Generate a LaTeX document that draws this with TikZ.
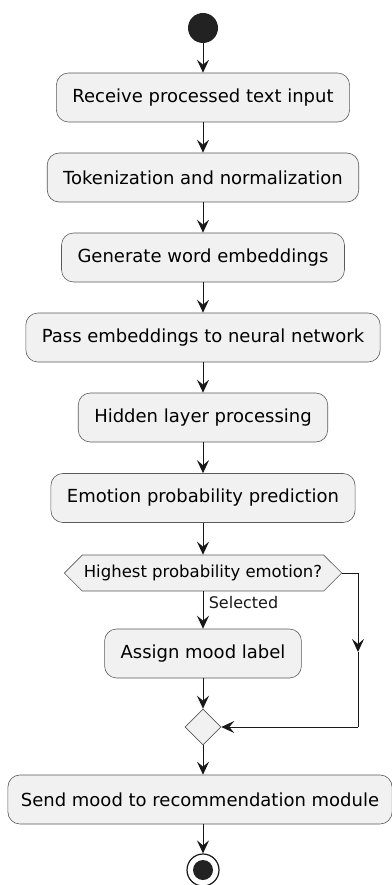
\documentclass[tikz,border=0pt]{standalone}
\usepackage{fontspec}
\setmainfont{DejaVu Sans}
\usetikzlibrary{arrows.meta,shapes.symbols,shapes.geometric}
\definecolor{boxfill}{HTML}{F1F1F1}
\definecolor{linecol}{HTML}{181818}
\definecolor{bordercol}{HTML}{5A5A5A}
\definecolor{dotcol}{HTML}{222222}

\begin{document}
\begin{tikzpicture}[x=1pt,y=-1pt,
  act/.style={draw=bordercol, fill=boxfill, rounded corners=12pt,
    minimum height=49pt, inner xsep=16pt, line width=0.6pt,
    font=\fontsize{18}{21}\selectfont},
  choice/.style={signal, signal to=east and west, signal pointer angle=90,
    draw=bordercol, fill=boxfill, minimum height=36pt, inner xsep=1.5pt,
    line width=0.6pt, font=\fontsize{16.5}{19}\selectfont},
  merge/.style={diamond, draw=bordercol, fill=boxfill, minimum width=36pt,
    minimum height=36pt, inner sep=0pt, line width=0.6pt},
  wire/.style={draw=linecol, line width=1pt},
  flow/.style={wire, -{Stealth[length=13pt,width=12pt,inset=5pt]}},
  lbl/.style={font=\fontsize{16}{19}\selectfont, text=linecol},
]
\useasboundingbox (0,0) rectangle (391,885);

% start and activities
\node[circle, fill=dotcol, minimum size=30pt, inner sep=0pt] (start) at (203,28) {};
\node[act] (a1) at (203,97.5) {Receive processed text input};
\node[act] (a2) at (203,177.5) {Tokenization and normalization};
\node[act] (a3) at (203,257.5) {Generate word embeddings};
\node[act] (a4) at (203,337.5) {Pass embeddings to neural network};
\node[act] (a5) at (203,417.5) {Hidden layer processing};
\node[act] (a6) at (203,498) {Emotion probability prediction};
\node[choice] (hex) at (203,573) {Highest probability emotion?};
\node[act] (a7) at (203,653.5) {Assign mood label};
\node[merge] (mg) at (203,727) {};
\node[act, inner xsep=13pt] (a8) at (200,799.5) {Send mood to recommendation module};
\node[circle, draw=linecol, line width=1.2pt, minimum size=32pt, inner sep=0pt] (stop) at (203,870) {};
\fill[dotcol] (stop.center) circle (10);

% main flow
\draw[flow] (start) -- (a1);
\draw[flow] (a1) -- (a2);
\draw[flow] (a2) -- (a3);
\draw[flow] (a3) -- (a4);
\draw[flow] (a4) -- (a5);
\draw[flow] (a5) -- (a6);
\draw[flow] (a6.south) -- (hex.north);
\draw[flow] (hex.south) -- node[lbl, pos=0, anchor=north west, xshift=2pt, yshift=-1pt] {Selected} (a7.north);
\draw[flow] (a7) -- (mg);
\draw[flow] (mg) -- (a8.north -| mg);
\draw[flow] (a8.south -| stop) -- (stop);

% bypass branch on the right
\coordinate (r1) at (358,573);
\coordinate (rm) at (358,652);
\coordinate (r2) at (358,727);
\draw[wire] (hex.east) -- (r1);
\draw[flow] (r1) -- (rm);
\draw[wire] (rm) -- (r2);
\draw[flow] (r2) -- (mg.east);
\end{tikzpicture}
\end{document}
